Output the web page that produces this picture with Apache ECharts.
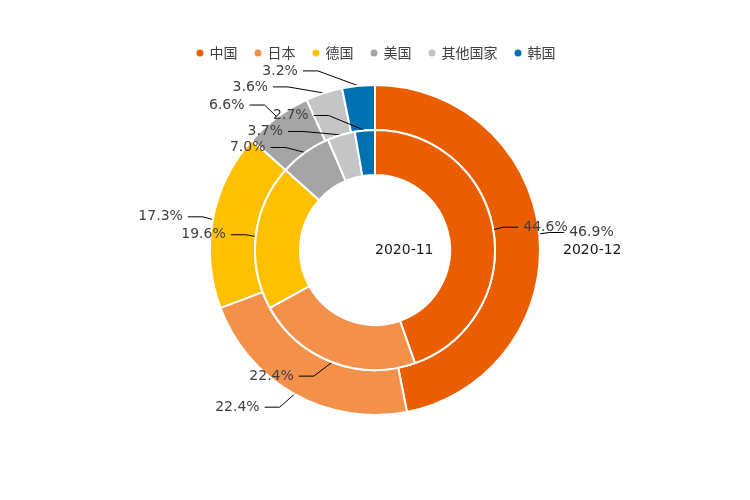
<!DOCTYPE html>
<html>
<head>
<meta charset="utf-8">
<script src="https://cdn.jsdelivr.net/npm/echarts@6/dist/echarts.min.js"></script>
<style>
  html, body { margin: 0; padding: 0; background: #fff; }
  #main { width: 750px; height: 500px; }
</style>
</head>
<body>
<div id="main"></div>
<script>
const countries = ['中国', '日本', '德国', '美国', '其他国家', '韩国']
const colors = ['#EB5E00', '#F3904A', '#FFC000', '#A5A5A5', '#C5C5C5', '#0070B0']
const nov = [44.6, 22.4, 19.6, 7.0, 3.7, 2.7]
const dec = [46.9, 22.4, 17.3, 6.6, 3.6, 3.2]

const center = [375, 250]
const outerRadius = [120, 165]
const innerRadius = [75, 120]
const lineLen = 15
const lineLen2 = 15
const labelGap = 5

const chart = echarts.init(document.getElementById('main'))

function toData (values) {
  return countries.map((name, i) => ({ name, value: values[i] }))
}

// put labels on a circle of r + length + length2 (older pie label style)
function pieLabelLayout (params) {
  const r = params.seriesIndex === 0 ? outerRadius[1] : innerRadius[1]
  const rect = params.labelRect
  const pts = params.labelLinePoints
  if (!pts) return {}
  const y = rect.y + rect.height / 2
  const dir = pts[2][0] < center[0] ? -1 : 1
  const dy = Math.abs(y - center[1])
  const full = r + lineLen + lineLen2
  const dx = dy < full ? Math.sqrt(full * full - dy * dy) : Math.abs(pts[2][0] - center[0])
  const x = center[0] + dir * dx
  const end = x - dir * labelGap
  const elbow = end - dir * lineLen2
  return {
    x: x,
    y: y,
    align: dir < 0 ? 'right' : 'left',
    verticalAlign: 'middle',
    labelLinePoints: [pts[0], [elbow, y], [end, y]]
  }
}

const labelStyle = {
  formatter: (p) => p.value.toFixed(1) + '%',
  fontSize: 14,
  color: '#404040',
  fontFamily: '"DejaVu Sans", sans-serif'
}

chart.setOption({
  color: colors,
  textStyle: { fontFamily: '"DejaVu Sans", sans-serif' },
  legend: {
    top: 41,
    icon: 'circle',
    itemWidth: 9,
    itemHeight: 9,
    itemGap: 15,
    textStyle: { fontSize: 14, color: '#404040', fontFamily: '"Noto Sans CJK SC", sans-serif' },
    data: countries
  },
  graphic: [
    {
      type: 'text',
      left: 375,
      top: 243,
      style: { text: '2020-11', fontSize: 14, fill: '#1a1a1a', fontFamily: '"DejaVu Sans", sans-serif' }
    },
    {
      type: 'text',
      left: 563,
      top: 243,
      style: { text: '2020-12', fontSize: 14, fill: '#1a1a1a', fontFamily: '"DejaVu Sans", sans-serif' }
    }
  ],
  series: [
    {
      name: '2020-12',
      type: 'pie',
      z: 2,
      center: center,
      radius: outerRadius,
      startAngle: 90,
      clockwise: true,
      avoidLabelOverlap: true,
      itemStyle: { borderColor: '#fff', borderWidth: 2 },
      label: labelStyle,
      labelLine: { length: lineLen, length2: lineLen2, lineStyle: { color: '#000', width: 1 } },
      labelLayout: pieLabelLayout,
      data: toData(dec)
    },
    {
      name: '2020-11',
      type: 'pie',
      z: 3,
      center: center,
      radius: innerRadius,
      startAngle: 90,
      clockwise: true,
      avoidLabelOverlap: true,
      itemStyle: { borderColor: '#fff', borderWidth: 2 },
      label: labelStyle,
      labelLine: { length: lineLen, length2: lineLen2, lineStyle: { color: '#000', width: 1 } },
      labelLayout: pieLabelLayout,
      data: toData(nov)
    }
  ]
})
</script>
</body>
</html>
